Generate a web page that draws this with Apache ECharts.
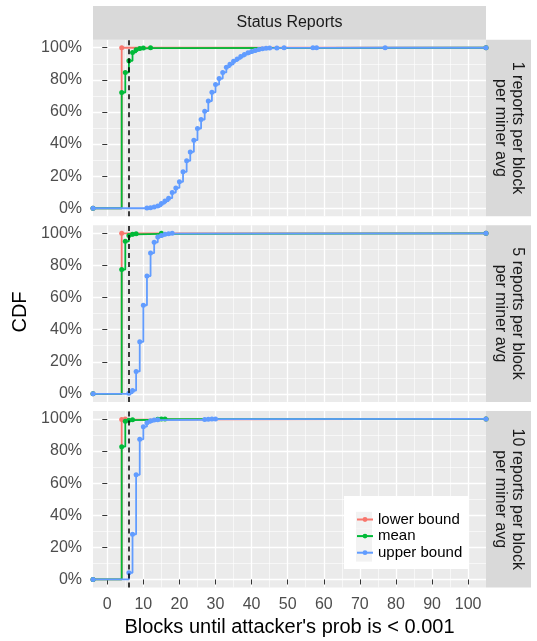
<!DOCTYPE html>
<html>
<head>
<meta charset="utf-8">
<script src="https://cdn.jsdelivr.net/npm/echarts@6/dist/echarts.min.js"></script>
<style>html,body{margin:0;padding:0;background:#fff}#c{width:537px;height:641px}</style>
</head>
<body>
<div id="c"></div>
<script>
// ---- data ----
const seriesNames = ['lower bound', 'mean', 'upper bound'];
const seriesColors = ['#F8766D', '#00BA38', '#619CFF'];
const stripTitle = 'Status Reports';
const facetLabels = ['1 reports per block\nper miner avg', '5 reports per block\nper miner avg', '10 reports per block\nper miner avg'];
const xTicks = [0, 10, 20, 30, 40, 50, 60, 70, 80, 90, 100];
const xMinorTicks = [5, 15, 25, 35, 45, 55, 65, 75, 85, 95];
const yTicks = [0, 0.2, 0.4, 0.6, 0.8, 1];
const yMinorTicks = [0.1, 0.3, 0.5, 0.7, 0.9];
const xTitle = "Blocks until attacker's prob is < 0.001";
const yTitle = 'CDF';
const thresholdX = 6;
// axis domain (data range 1..100 with 5% expansion); ECDF pads at -Inf/Inf sit on these edges
const X_MIN = -3.95, X_MAX = 104.95;

// panel 1: 1 report per block
const lower1X = [4];
const lower1Y = [1];
const mean1X = [4, 5, 6, 7, 8, 9, 10, 12];
const mean1Y = [0.721, 0.846, 0.919, 0.971, 0.988, 0.995, 0.998, 1];
const upper1X = [11, 12, 13, 14, 15, 16, 17, 18, 19, 20, 21, 22, 23, 24, 25, 26, 27, 28, 29, 30, 31, 32, 33, 34, 35, 36, 37, 38, 39, 40, 41, 42, 43, 44, 45, 47, 49, 57, 58, 77];
const upper1Y = [0.002, 0.004, 0.008, 0.014, 0.029, 0.045, 0.063, 0.098, 0.127, 0.165, 0.227, 0.296, 0.351, 0.424, 0.497, 0.553, 0.605, 0.668, 0.722, 0.771, 0.808, 0.846, 0.879, 0.897, 0.916, 0.93, 0.945, 0.958, 0.968, 0.976, 0.983, 0.989, 0.993, 0.996, 0.998, 0.999, 0.9995, 0.9997, 0.9998, 0.9999];

// panel 2: 5 reports per block
const lower2X = [4];
const lower2Y = [1];
const mean2X = [4, 5, 6, 7, 8, 15];
const mean2Y = [0.774, 0.95, 0.986, 0.994, 0.997, 1];
const upper2X = [6, 7, 8, 9, 10, 11, 12, 13, 14, 15, 16, 17, 18];
const upper2Y = [0.004, 0.021, 0.14, 0.324, 0.552, 0.734, 0.877, 0.944, 0.977, 0.987, 0.994, 0.998, 1];

// panel 3: 10 reports per block
const lower3X = [4, 5];
const lower3Y = [0.996, 1];
const mean3X = [4, 5, 6, 7, 14, 15, 16];
const mean3Y = [0.827, 0.985, 0.992, 0.995, 0.998, 0.999, 1];
const upper3X = [6, 7, 8, 9, 10, 11, 12, 13, 14, 27, 28, 29, 30];
const upper3Y = [0.042, 0.281, 0.652, 0.873, 0.952, 0.976, 0.988, 0.993, 0.995, 0.997, 0.998, 0.999, 1];

const panels = [
  [[lower1X, lower1Y], [mean1X, mean1Y], [upper1X, upper1Y]],
  [[lower2X, lower2Y], [mean2X, mean2Y], [upper2X, upper2Y]],
  [[lower3X, lower3Y], [mean3X, mean3Y], [upper3X, upper3Y]]
];

// ---- layout ----
const FONT = '"Liberation Sans", Arial, Helvetica, sans-serif';
const gLeft = 93, gRight = 486, pH = 176.6, pGap = 9, pTop0 = 39.7;
const W = 537;
const tops = [0, 1, 2].map(i => pTop0 + i * (pH + pGap));

const grids = [], xAxes = [], yAxes = [], series = [], graphics = [];

tops.forEach((t, i) => {
  grids.push({left: gLeft, right: W - gRight, top: t, height: pH, show: true, backgroundColor: '#EBEBEB', borderWidth: 0});
  const bottom = i === 2;
  xAxes.push({
    type: 'value', gridIndex: i, min: X_MIN, max: X_MAX,
    axisLine: {show: false},
    axisTick: {show: bottom, length: 5, lineStyle: {color: '#333333', width: 1}, customValues: xTicks},
    axisLabel: {show: bottom, customValues: xTicks, color: '#4D4D4D', fontSize: 16, fontFamily: FONT, margin: 9},
    splitLine: {show: true, lineStyle: {color: '#FFFFFF', width: 1.3}},
    name: bottom ? xTitle : '', nameLocation: 'middle', nameGap: 30,
    nameTextStyle: {fontSize: 20, color: '#000', fontFamily: FONT}
  });
  xAxes.push({
    type: 'value', gridIndex: i, min: X_MIN, max: X_MAX,
    axisLine: {show: false},
    axisTick: {show: false, customValues: xMinorTicks},
    axisLabel: {show: false, customValues: xMinorTicks},
    splitLine: {show: true, lineStyle: {color: '#FFFFFF', width: 0.6}}
  });
  yAxes.push({
    type: 'value', gridIndex: i, min: -0.05, max: 1.05,
    axisLine: {show: false},
    axisTick: {show: true, length: 5, lineStyle: {color: '#333333', width: 1}, customValues: yTicks},
    axisLabel: {show: true, customValues: yTicks, color: '#4D4D4D', fontSize: 16, fontFamily: FONT, margin: 11,
      formatter: v => Math.round(v * 100) + '%'},
    splitLine: {show: true, lineStyle: {color: '#FFFFFF', width: 1.3}}
  });
  yAxes.push({
    type: 'value', gridIndex: i, min: -0.05, max: 1.05,
    axisLine: {show: false},
    axisTick: {show: false, customValues: yMinorTicks},
    axisLabel: {show: false, customValues: yMinorTicks},
    splitLine: {show: true, lineStyle: {color: '#FFFFFF', width: 0.6}}
  });

  panels[i].forEach((pair, s) => {
    const xs = pair[0], ys = pair[1];
    const data = [[X_MIN, 0]].concat(xs.map((x, k) => [x, ys[k]])).concat([[X_MAX, 1]]);
    const ser = {
      type: 'line', name: seriesNames[s], xAxisIndex: i * 2, yAxisIndex: i * 2,
      data: data, step: 'end', symbol: 'circle', symbolSize: 5, showSymbol: true,
      lineStyle: {width: 1.8, color: seriesColors[s]}, itemStyle: {color: seriesColors[s]},
      emphasis: {disabled: true}, z: 2 + s * 0.1
    };
    if (s === 2) {
      ser.markLine = {
        silent: true, symbol: ['none', 'none'], label: {show: false},
        lineStyle: {color: '#000', type: [5, 4], width: 1.5},
        data: [{xAxis: thresholdX}], z: 6
      };
    }
    series.push(ser);
  });

  // right facet strip
  graphics.push({type: 'rect', shape: {x: gRight, y: t, width: 45, height: pH}, style: {fill: '#D9D9D9'}, z: 1});
  graphics.push({type: 'text', x: gRight + 22.5, y: t + pH / 2, rotation: -Math.PI / 2,
    style: {text: facetLabels[i], fill: '#1A1A1A', fontSize: 16, fontFamily: FONT, align: 'center', verticalAlign: 'middle', lineHeight: 17}, z: 2});
});

// top strip
graphics.push({type: 'rect', shape: {x: gLeft, y: 6, width: gRight - gLeft, height: pTop0 - 6}, style: {fill: '#D9D9D9'}, z: 1});
graphics.push({type: 'text', x: (gLeft + gRight) / 2, y: (6 + pTop0) / 2,
  style: {text: stripTitle, fill: '#1A1A1A', fontSize: 16, fontFamily: FONT, align: 'center', verticalAlign: 'middle'}, z: 2});
// y title
graphics.push({type: 'text', x: 20, y: 312, rotation: Math.PI / 2,
  style: {text: yTitle, fill: '#000', fontSize: 20, fontFamily: FONT, align: 'center', verticalAlign: 'middle'}, z: 2});
// legend box and key backgrounds
graphics.push({type: 'rect', shape: {x: 344, y: 496, width: 124, height: 73}, style: {fill: '#FFFFFF'}, z: 1});
[511.8, 528.4, 545].forEach(ky => {
  graphics.push({type: 'rect', shape: {x: 356, y: ky, width: 16, height: 16.6}, style: {fill: '#F2F2F2'}, z: 2});
});

const chart = echarts.init(document.getElementById('c'), null, {renderer: 'canvas'});
chart.setOption({
  animation: false,
  backgroundColor: '#FFFFFF',
  textStyle: {fontFamily: FONT},
  grid: grids, xAxis: xAxes, yAxis: yAxes, series: series,
  legend: {
    orient: 'vertical', left: 356, top: 512, padding: 0, itemWidth: 16, itemHeight: 6, itemGap: 1.6,
    selectedMode: false, data: seriesNames,
    textStyle: {fontSize: 15, color: '#000', fontFamily: FONT}, z: 10
  },
  graphic: {elements: graphics}
});
</script>
</body>
</html>
